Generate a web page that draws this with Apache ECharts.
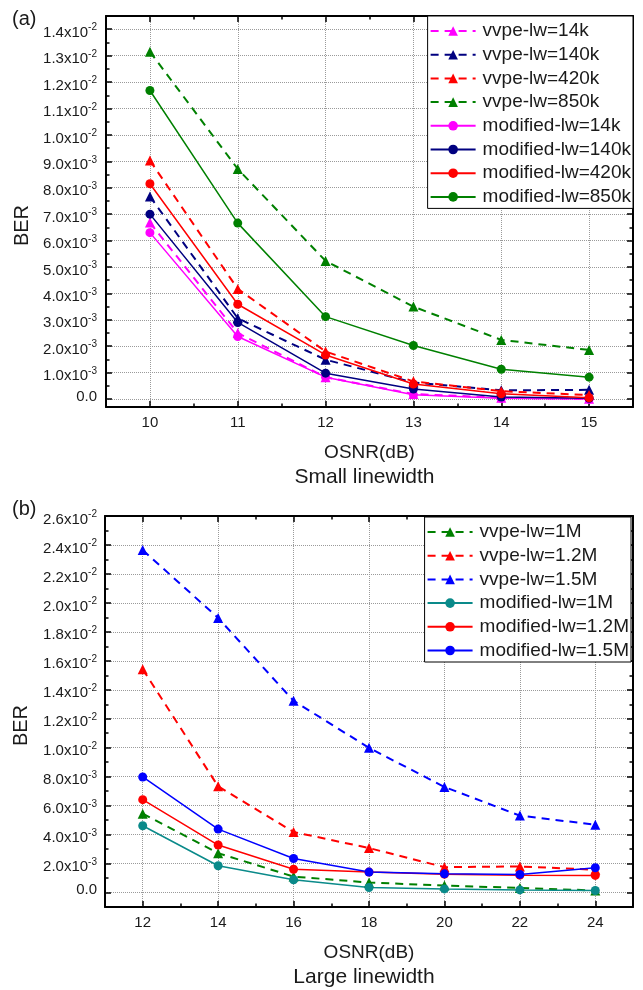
<!DOCTYPE html>
<html>
<head>
<meta charset="utf-8">
<script src="https://cdn.jsdelivr.net/npm/echarts@6/dist/echarts.min.js"></script>
<style>
  html, body { margin: 0; padding: 0; background: #fff; }
  #chart { width: 643px; height: 990px; }
</style>
</head>
<body>
<div id="chart"></div>
<script>
// ---- (a) small linewidth ----
const osnrSmall = [10, 11, 12, 13, 14, 15];
const vvpe14k   = [6.68e-3, 2.50e-3, 0.83e-3, 0.19e-3, 0.05e-3, 0.01e-3];
const vvpe140k  = [7.67e-3, 3.06e-3, 1.49e-3, 0.63e-3, 0.33e-3, 0.35e-3];
const vvpe420k  = [9.03e-3, 4.17e-3, 1.80e-3, 0.67e-3, 0.30e-3, 0.15e-3];
const vvpe850k  = [13.15e-3, 8.71e-3, 5.23e-3, 3.50e-3, 2.24e-3, 1.86e-3];
const mod14k    = [6.30e-3, 2.37e-3, 0.83e-3, 0.16e-3, 0.03e-3, 0.00];
const mod140k   = [7.00e-3, 2.90e-3, 0.98e-3, 0.38e-3, 0.08e-3, 0.03e-3];
const mod420k   = [8.15e-3, 3.59e-3, 1.67e-3, 0.57e-3, 0.20e-3, 0.05e-3];
const mod850k   = [11.68e-3, 6.66e-3, 3.12e-3, 2.03e-3, 1.13e-3, 0.83e-3];

// ---- (b) large linewidth ----
const osnrLarge = [12, 14, 16, 18, 20, 22, 24];
const vvpe1M    = [5.44e-3, 2.72e-3, 1.10e-3, 0.69e-3, 0.48e-3, 0.32e-3, 0.14e-3];
const vvpe12M   = [15.42e-3, 7.33e-3, 4.18e-3, 3.07e-3, 1.75e-3, 1.80e-3, 1.57e-3];
const vvpe15M   = [23.65e-3, 18.96e-3, 13.24e-3, 9.99e-3, 7.29e-3, 5.31e-3, 4.68e-3];
const mod1M     = [4.61e-3, 1.85e-3, 0.88e-3, 0.35e-3, 0.25e-3, 0.18e-3, 0.14e-3];
const mod12M    = [6.41e-3, 3.28e-3, 1.61e-3, 1.41e-3, 1.27e-3, 1.20e-3, 1.18e-3];
const mod15M    = [7.98e-3, 4.38e-3, 2.35e-3, 1.41e-3, 1.29e-3, 1.25e-3, 1.71e-3];

// ---- ticks ----
const smallXTicks = [10, 11, 12, 13, 14, 15];
const smallYTicks = [0, 1e-3, 2e-3, 3e-3, 4e-3, 5e-3, 6e-3, 7e-3, 8e-3, 9e-3, 10e-3, 11e-3, 12e-3, 13e-3, 14e-3];
const smallYTickLabels = ['0.0', '1.0x10^-3', '2.0x10^-3', '3.0x10^-3', '4.0x10^-3', '5.0x10^-3', '6.0x10^-3',
  '7.0x10^-3', '8.0x10^-3', '9.0x10^-3', '1.0x10^-2', '1.1x10^-2', '1.2x10^-2', '1.3x10^-2', '1.4x10^-2'];
const largeXTicks = [12, 14, 16, 18, 20, 22, 24];
const largeYTicks = [0, 2e-3, 4e-3, 6e-3, 8e-3, 10e-3, 12e-3, 14e-3, 16e-3, 18e-3, 20e-3, 22e-3, 24e-3, 26e-3];
const largeYTickLabels = ['0.0', '2.0x10^-3', '4.0x10^-3', '6.0x10^-3', '8.0x10^-3', '1.0x10^-2', '1.2x10^-2',
  '1.4x10^-2', '1.6x10^-2', '1.8x10^-2', '2.0x10^-2', '2.2x10^-2', '2.4x10^-2', '2.6x10^-2'];

const FONT = 'Liberation Sans, Arial, Helvetica, sans-serif';
const INK = '#1a1a1a';

function midpoints(arr) {
  return arr.slice(1).map((v, i) => (v + arr[i]) / 2);
}

function sciFormatter(ticks, labels) {
  return function (v) {
    const i = ticks.findIndex(t => Math.abs(t - v) < 1e-9);
    if (i < 0) return '';
    const parts = labels[i].split('^');
    return parts.length > 1 ? '{m|' + parts[0] + '}{s|' + parts[1] + '}' : '{z|' + parts[0] + '}';
  };
}

const sciRich = {
  m: { fontSize: 15, color: INK, fontFamily: FONT, padding: [7, 0, 0, 0] },
  s: { fontSize: 10, color: INK, fontFamily: FONT, padding: [0, 0, 3, 0] },
  z: { fontSize: 15, color: INK, fontFamily: FONT, padding: [0, 0, 5, 0] }
};

// Four sides of a plot frame: main axis + mirrored axis, each with major and minor inward ticks
function axisSet(dim, grid, range, majors, label, nameOpt) {
  const sides = dim === 'x' ? ['bottom', 'top'] : ['left', 'right'];
  const minors = midpoints(majors);
  const list = [];
  sides.forEach((pos, k) => {
    const main = {
      type: 'value', gridIndex: grid, position: pos, min: range[0], max: range[1],
      axisLine: { show: true, onZero: false, lineStyle: { color: '#000', width: 2 } },
      axisTick: { show: true, inside: true, length: 6, customValues: majors, lineStyle: { color: '#000', width: 1.5 } },
      axisLabel: k === 0 ? Object.assign({ show: true, customValues: majors }, label) : { show: false },
      splitLine: k === 0 ? { show: true, lineStyle: { color: '#9a9a9a', width: 1, type: 'dotted' } } : { show: false }
    };
    if (k === 0 && nameOpt) Object.assign(main, nameOpt);
    list.push(main);
    list.push({
      type: 'value', gridIndex: grid, position: pos, min: range[0], max: range[1],
      axisLine: { show: false, onZero: false },
      axisTick: { show: true, inside: true, length: 3.5, customValues: minors, lineStyle: { color: '#000', width: 1.5 } },
      axisLabel: { show: false },
      splitLine: { show: false }
    });
  });
  return list;
}

const xLabel = { fontSize: 15, color: INK, fontFamily: FONT, margin: 8 };

function xName(sub) {
  return {
    name: '{a|OSNR(dB)}\n{b|' + sub + '}',
    nameLocation: 'middle',
    nameGap: 34,
    nameTextStyle: {
      rich: {
        a: { fontSize: 19, lineHeight: 24, color: INK, fontFamily: FONT },
        b: { fontSize: 21, lineHeight: 25, color: INK, fontFamily: FONT, padding: [0, 10, 0, 0] }
      }
    }
  };
}

const yName = {
  name: 'BER', nameLocation: 'middle', nameRotate: 90, nameGap: 74,
  nameTextStyle: { fontSize: 20, color: INK, fontFamily: FONT, padding: [0, 28, 0, 0] }
};

const xAxes = [].concat(
  axisSet('x', 0, [9.5, 15.5], smallXTicks, xLabel, xName('Small linewidth')),
  axisSet('x', 1, [11, 25], largeXTicks, xLabel, xName('Large linewidth'))
);
const yAxes = [].concat(
  axisSet('y', 0, [-0.0003, 0.0145], smallYTicks,
    { margin: 9, formatter: sciFormatter(smallYTicks, smallYTickLabels), rich: sciRich }, yName),
  axisSet('y', 1, [-0.001, 0.026], largeYTicks,
    { margin: 8, formatter: sciFormatter(largeYTicks, largeYTickLabels), rich: sciRich }, yName)
);

function line(name, xs, ys, color, dashed, axisIndex) {
  return {
    name: name, type: 'line', xAxisIndex: axisIndex, yAxisIndex: axisIndex,
    data: xs.map((x, i) => [x, ys[i]]),
    symbol: dashed ? 'triangle' : 'circle',
    symbolSize: dashed ? 10 : 9,
    showSymbol: true,
    lineStyle: { color: color, width: dashed ? 2 : 1.5, type: dashed ? [8, 6] : 'solid' },
    itemStyle: { color: color },
    emphasis: { disabled: true }
  };
}

const MAGENTA = '#ff00ff', NAVY = '#000080', RED = '#ff0000', GREEN = '#008000',
      TEAL = '#0a8a8a', BLUE = '#0000ff';

const series = [
  line('vvpe-lw=14k', osnrSmall, vvpe14k, MAGENTA, true, 0),
  line('vvpe-lw=140k', osnrSmall, vvpe140k, NAVY, true, 0),
  line('vvpe-lw=420k', osnrSmall, vvpe420k, RED, true, 0),
  line('vvpe-lw=850k', osnrSmall, vvpe850k, GREEN, true, 0),
  line('modified-lw=14k', osnrSmall, mod14k, MAGENTA, false, 0),
  line('modified-lw=140k', osnrSmall, mod140k, NAVY, false, 0),
  line('modified-lw=420k', osnrSmall, mod420k, RED, false, 0),
  line('modified-lw=850k', osnrSmall, mod850k, GREEN, false, 0),
  line('vvpe-lw=1M', osnrLarge, vvpe1M, GREEN, true, 4),
  line('vvpe-lw=1.2M', osnrLarge, vvpe12M, RED, true, 4),
  line('vvpe-lw=1.5M', osnrLarge, vvpe15M, BLUE, true, 4),
  line('modified-lw=1M', osnrLarge, mod1M, TEAL, false, 4),
  line('modified-lw=1.2M', osnrLarge, mod12M, RED, false, 4),
  line('modified-lw=1.5M', osnrLarge, mod15M, BLUE, false, 4)
];

function legendBox(names, right, top) {
  return {
    data: names, orient: 'vertical', align: 'left', right: right, top: top,
    itemWidth: 45, itemHeight: 12, itemGap: 3.7,
    padding: [5, 2, 1.5, 2],
    backgroundColor: '#fff', borderColor: '#000', borderWidth: 1, borderRadius: 0,
    selectedMode: false,
    textStyle: { fontSize: 19, lineHeight: 20, color: INK, fontFamily: FONT, padding: [0, 0, 0, 2] }
  };
}

const chart = echarts.init(document.getElementById('chart'), null, { renderer: 'canvas' });
chart.setOption({
  animation: false,
  backgroundColor: '#fff',
  textStyle: { fontFamily: FONT },
  title: [
    { text: '(a)', left: 12, top: 9, padding: 0, textStyle: { fontSize: 20, fontWeight: 'normal', color: INK, fontFamily: FONT } },
    { text: '(b)', left: 12, top: 499, padding: 0, textStyle: { fontSize: 20, fontWeight: 'normal', color: INK, fontFamily: FONT } }
  ],
  grid: [
    { left: 106, right: 10, top: 16, height: 391 },
    { left: 105, right: 10, top: 516, height: 391 }
  ],
  legend: [
    legendBox(series.slice(0, 8).map(s => s.name), 10, 16),
    legendBox(series.slice(8).map(s => s.name), 12, 517)
  ],
  xAxis: xAxes,
  yAxis: yAxes,
  series: series
});
</script>
</body>
</html>
